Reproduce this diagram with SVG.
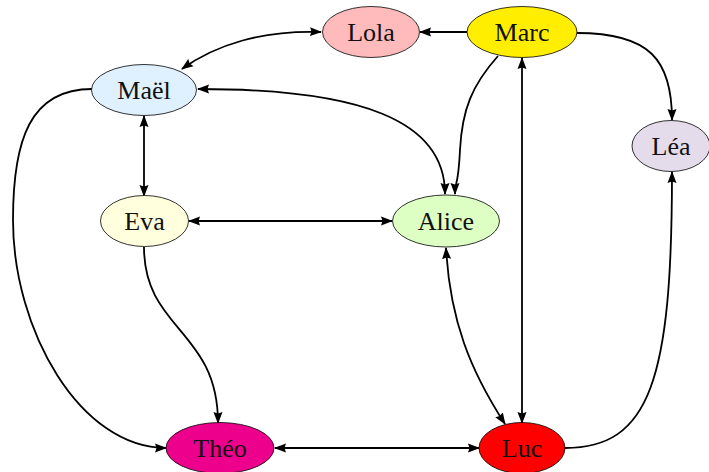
<svg xmlns="http://www.w3.org/2000/svg" width="709" height="472" viewBox="0 0 709 472">
<style>
.node ellipse{stroke:#000;stroke-width:0.8}
.node text{font-family:"Liberation Serif","Times New Roman",serif;font-size:26px;fill:#111;text-anchor:middle}
.edge{fill:none;stroke:#000;stroke-width:1.8}
</style>
<defs>
<marker id="ah" viewBox="0 0 12 10" refX="11" refY="5" markerWidth="12" markerHeight="10" markerUnits="userSpaceOnUse" orient="auto-start-reverse">
<path d="M0,0.5 L12,5 L0,9.5 L1.5,5 z" fill="#000"/>
</marker>
</defs>
<rect width="709" height="472" fill="#fff"/>
<g id="connectors">
<path class="edge" d="M467 32 L420 32" marker-end="url(#ah)"/>
<path class="edge" d="M321 32 C262 30 215 45 182 69" marker-start="url(#ah)" marker-end="url(#ah)"/>
<path class="edge" d="M198 89 C360 89 445 120 445 194" marker-start="url(#ah)" marker-end="url(#ah)"/>
<path class="edge" d="M498 56 C472 85 462 110 460 150 S455 180 455 194" marker-end="url(#ah)"/>
<path class="edge" d="M577 33 C650 33 672 60 672 120" marker-end="url(#ah)"/>
<path class="edge" d="M522 58 L522 423" marker-start="url(#ah)" marker-end="url(#ah)"/>
<path class="edge" d="M144 116 L144 196" marker-start="url(#ah)" marker-end="url(#ah)"/>
<path class="edge" d="M189 221 L392 221" marker-start="url(#ah)" marker-end="url(#ah)"/>
<path class="edge" d="M144 247 C144 330 218 330 218 423" marker-end="url(#ah)"/>
<path class="edge" d="M92 89 C30 89 13 140 13 220 C13 330 80 448 166 448" marker-end="url(#ah)"/>
<path class="edge" d="M275 448 L479 448" marker-start="url(#ah)" marker-end="url(#ah)"/>
<path class="edge" d="M446 248 C450 320 470 370 505 424" marker-start="url(#ah)" marker-end="url(#ah)"/>
<path class="edge" d="M565 448 C650 448 672 380 672 172" marker-end="url(#ah)"/>
</g>
<g id="lola" class="node"><ellipse cx="371" cy="32" rx="48.5" ry="25.5" fill="#ffbbbb"/><text x="371" y="41">Lola</text></g>
<g id="marc" class="node"><ellipse cx="522" cy="32" rx="55" ry="25.5" fill="#ffee00"/><text x="522" y="41">Marc</text></g>
<g id="mael" class="node"><ellipse cx="144" cy="90" rx="52.5" ry="25.5" fill="#dff0ff"/><text x="144" y="99">Maël</text></g>
<g id="lea" class="node"><ellipse cx="671" cy="146" rx="39" ry="25.5" fill="#e4dcea"/><text x="671" y="155">Léa</text></g>
<g id="eva" class="node"><ellipse cx="144.5" cy="221" rx="44" ry="25.5" fill="#ffffdd"/><text x="144.5" y="230">Eva</text></g>
<g id="alice" class="node"><ellipse cx="446" cy="221" rx="53.5" ry="26" fill="#ddffc4"/><text x="446" y="230">Alice</text></g>
<g id="theo" class="node"><ellipse cx="220" cy="448" rx="54" ry="25.5" fill="#ec008c"/><text x="220" y="457">Théo</text></g>
<g id="luc" class="node"><ellipse cx="522" cy="448" rx="43" ry="25.5" fill="#ff0000"/><text x="522" y="457">Luc</text></g>
</svg>
